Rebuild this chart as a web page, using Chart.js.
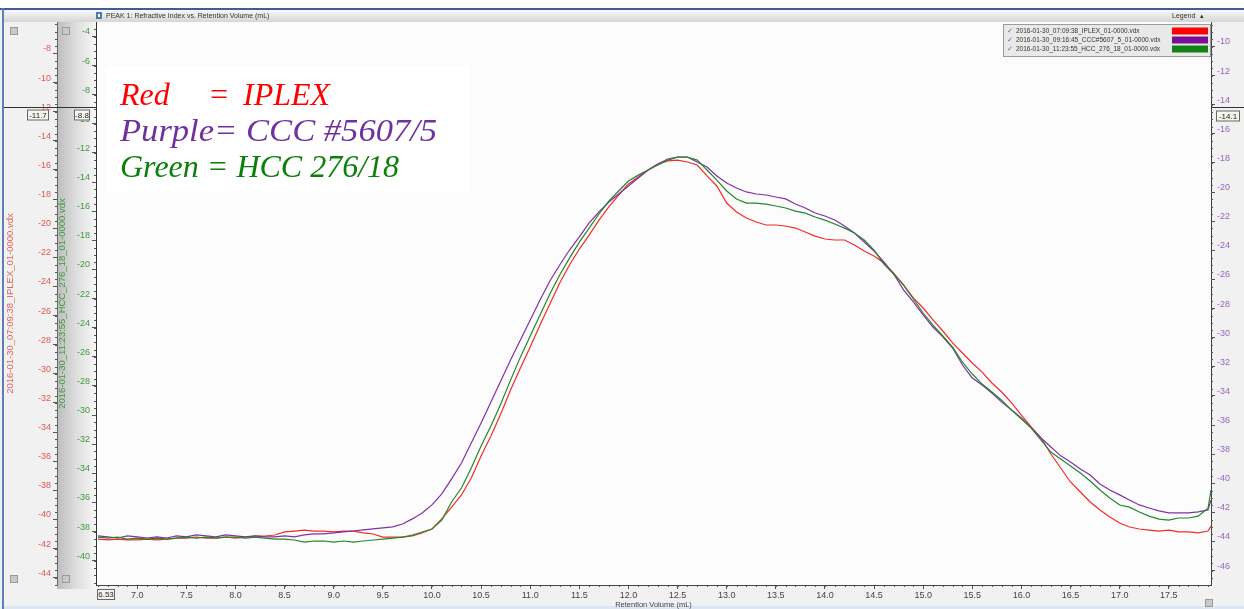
<!DOCTYPE html>
<html><head><meta charset="utf-8">
<script src="https://cdn.jsdelivr.net/npm/chart.js@4.4.0/dist/chart.umd.min.js"></script>
<style>html,body{margin:0;padding:0;background:#fff;overflow:hidden}canvas{display:block}</style>
</head><body>
<canvas id="c" width="1244" height="609"></canvas>
<script>
// Retention volume (mL)
const retentionVolume = [6.6,6.7,6.8,6.9,7.0,7.1,7.2,7.3,7.4,7.5,7.6,7.7,7.8,7.9,8.0,8.1,8.2,8.3,8.4,8.5,
8.6,8.7,8.8,8.9,9.0,9.1,9.2,9.3,9.4,9.5,9.6,9.7,9.8,9.9,10.0,10.1,10.2,10.3,10.4,10.5,
10.6,10.7,10.8,10.9,11.0,11.1,11.2,11.3,11.4,11.5,11.6,11.7,11.8,11.9,12.0,12.1,12.2,12.3,12.4,12.5,
12.6,12.7,12.8,12.9,13.0,13.1,13.2,13.3,13.4,13.5,13.6,13.7,13.8,13.9,14.0,14.1,14.2,14.3,14.4,14.5,
14.6,14.7,14.8,14.9,15.0,15.1,15.2,15.3,15.4,15.5,15.6,15.7,15.8,15.9,16.0,16.1,16.2,16.3,16.4,16.5,
16.6,16.7,16.8,16.9,17.0,17.1,17.2,17.3,17.4,17.5,17.6,17.7,17.8,17.9,17.93];

// Refractive index signal, IPLEX (red, left outer axis)
const iplex = [-41.35,-41.41,-41.35,-41.41,-41.41,-41.35,-41.41,-41.35,-41.28,-41.28,
-41.21,-41.28,-41.28,-41.21,-41.28,-41.21,-41.14,-41.14,-41.07,-40.86,
-40.80,-40.73,-40.80,-40.80,-40.86,-40.80,-40.80,-40.93,-41.00,-41.21,
-41.21,-41.21,-41.14,-40.93,-40.66,-39.97,-39.15,-38.32,-37.16,-35.64,
-34.27,-32.76,-31.11,-29.60,-28.16,-26.65,-25.21,-23.76,-22.53,-21.43,
-20.47,-19.44,-18.54,-17.72,-16.96,-16.48,-16.00,-15.59,-15.38,-15.32,
-15.45,-15.66,-16.41,-17.10,-18.27,-18.89,-19.30,-19.57,-19.78,-19.78,
-19.85,-19.99,-20.26,-20.54,-20.74,-20.81,-20.81,-21.15,-21.57,-21.91,
-22.39,-23.08,-23.90,-24.79,-25.48,-26.30,-27.06,-27.88,-28.57,-29.26,
-29.88,-30.63,-31.25,-32.00,-32.83,-33.65,-34.41,-35.51,-36.47,-37.43,
-38.12,-38.80,-39.35,-39.83,-40.25,-40.52,-40.66,-40.73,-40.80,-40.73,
-40.86,-40.86,-40.93,-40.80,-40.45];

// CCC #5607/5 (purple, right axis)
const ccc5607 = [-43.62,-43.69,-43.76,-43.62,-43.69,-43.76,-43.69,-43.76,-43.62,-43.69,
-43.55,-43.62,-43.69,-43.55,-43.62,-43.69,-43.62,-43.69,-43.69,-43.62,
-43.69,-43.55,-43.48,-43.48,-43.41,-43.34,-43.28,-43.21,-43.14,-43.07,
-43.00,-42.80,-42.45,-42.04,-41.49,-40.73,-39.70,-38.61,-37.23,-35.86,
-34.42,-32.97,-31.53,-30.16,-28.78,-27.41,-26.11,-25.01,-23.98,-23.08,
-22.12,-21.37,-20.68,-20.13,-19.58,-19.03,-18.48,-18.07,-17.73,-17.59,
-17.59,-17.93,-18.28,-18.89,-19.38,-19.72,-19.99,-20.13,-20.20,-20.34,
-20.47,-20.82,-21.09,-21.44,-21.64,-21.92,-22.33,-22.81,-23.43,-24.05,
-24.80,-25.63,-26.72,-27.55,-28.44,-29.27,-29.95,-30.71,-31.88,-32.77,
-33.25,-33.80,-34.42,-34.97,-35.52,-36.20,-36.89,-37.51,-38.12,-38.54,
-39.02,-39.43,-40.05,-40.46,-40.80,-41.15,-41.49,-41.70,-41.90,-42.04,
-42.04,-42.04,-41.97,-41.83,-41.15];

// HCC 276/18 (green, left inner axis)
const hcc27618 = [-38.38,-38.45,-38.38,-38.52,-38.45,-38.52,-38.45,-38.52,-38.45,-38.38,
-38.45,-38.38,-38.45,-38.38,-38.38,-38.45,-38.38,-38.45,-38.52,-38.52,
-38.58,-38.72,-38.65,-38.65,-38.72,-38.65,-38.72,-38.65,-38.58,-38.52,
-38.45,-38.38,-38.24,-38.03,-37.83,-37.21,-35.97,-35.01,-33.64,-32.13,
-30.75,-29.24,-27.60,-26.02,-24.57,-23.13,-21.69,-20.38,-19.22,-18.12,
-17.16,-16.19,-15.30,-14.61,-13.93,-13.52,-13.17,-12.83,-12.49,-12.28,
-12.28,-12.49,-13.17,-13.86,-14.61,-15.16,-15.44,-15.44,-15.51,-15.64,
-15.78,-15.99,-16.13,-16.40,-16.61,-16.88,-17.16,-17.50,-17.98,-18.67,
-19.63,-20.32,-21.07,-22.03,-22.99,-23.82,-24.57,-25.33,-26.36,-27.18,
-27.87,-28.42,-28.97,-29.66,-30.27,-30.89,-31.72,-32.54,-33.02,-33.50,
-33.98,-34.53,-35.15,-35.70,-36.18,-36.32,-36.66,-36.94,-37.14,-37.21,
-37.07,-37.07,-36.94,-36.39,-35.15];

const xTicks = [7.0,7.5,8.0,8.5,9.0,9.5,10.0,10.5,11.0,11.5,12.0,12.5,13.0,13.5,14.0,14.5,15.0,15.5,16.0,16.5,17.0,17.5];
const redTicks = [-8,-10,-12,-14,-16,-18,-20,-22,-24,-26,-28,-30,-32,-34,-36,-38,-40,-42,-44];
const greenTicks = [-4,-6,-8,-10,-12,-14,-16,-18,-20,-22,-24,-26,-28,-30,-32,-34,-36,-38,-40];
const purpleTicks = [-10,-12,-14,-16,-18,-20,-22,-24,-26,-28,-30,-32,-34,-36,-38,-40,-42,-44,-46];

const seriesFiles = ['2016-01-30_07:09:38_IPLEX_01-0000.vdx','2016-01-30_09:16:45_CCC#5607_5_01-0000.vdx','2016-01-30_11:23:55_HCC_276_18_01-0000.vdx'];
const chartTitle = 'PEAK 1: Refractive Index vs. Retention Volume (mL)';
const xTitle = 'Retention Volume (mL)';
const cursorValues = ['-11.7','-8.8','-14.1'];
const xStartLabel = '6.53';

const C_RED = '#f52a2a', C_PUR = '#8230a8', C_GRN = '#22882a';

const pts = arr => retentionVolume.map((x,i)=>({x:x,y:arr[i]}));
const fixW = w => s => { s.width = w; };
const setTicks = arr => s => { s.ticks = arr.map(v=>({value:v})); };
const tickFont = {family:'"Liberation Sans", Arial, sans-serif', size:9};

const bgPlugin = {
  id:'bg',
  beforeDraw(chart){
    const ctx = chart.ctx, a = chart.chartArea, W = chart.width, H = chart.height;
    const sg = chart.scales.yGreen;
    ctx.save();
    ctx.fillStyle = '#f1f1f1'; ctx.fillRect(0,0,W,H);
    ctx.fillStyle = '#ffffff'; ctx.fillRect(0,0,W,9);
    let g = ctx.createLinearGradient(0,10,0,22);
    g.addColorStop(0,'#f8f8f8'); g.addColorStop(1,'#d6d6d6');
    ctx.fillStyle = g; ctx.fillRect(4,10,W-4,12);
    ctx.fillStyle = '#3e5f93'; ctx.fillRect(0,8,W,2);
    ctx.fillStyle = '#5b7fb8'; ctx.fillRect(2,8,2,H-8);
    g = ctx.createLinearGradient(sg.left,0,a.left,0);
    g.addColorStop(0,'#bdbdbd'); g.addColorStop(0.5,'#dedede'); g.addColorStop(1,'#f7f7f7');
    ctx.fillStyle = g; ctx.fillRect(sg.left,22,a.left-sg.left,a.bottom-22+4);
    ctx.fillStyle = '#fcfcfc'; ctx.fillRect(a.left,a.top,a.right-a.left,a.bottom-a.top);
    ctx.fillStyle = '#dbe6f3'; ctx.fillRect(4,H-3,W-4,3);
    ctx.fillStyle = '#5577aa'; ctx.fillRect(96,12,6,7);
    ctx.fillStyle = '#ffffff'; ctx.fillRect(98,14,2,3);
    ctx.font = '7px "Liberation Sans", Arial, sans-serif';
    ctx.fillStyle = '#333'; ctx.textBaseline = 'middle'; ctx.textAlign = 'left';
    ctx.fillText(chartTitle, 106, 16.5);
    ctx.fillText('Legend', 1172, 16.5);
    ctx.fillText('\u25B4', 1200, 16.5);
    ctx.restore();
  }
};

const overlayPlugin = {
  id:'overlay',
  afterDraw(chart){
    const ctx = chart.ctx, a = chart.chartArea, W = chart.width;
    const sx = chart.scales.x, sr = chart.scales.yRed, sg = chart.scales.yGreen, sp = chart.scales.yPurple;
    ctx.save();
    ctx.strokeStyle = '#555'; ctx.lineWidth = 1;
    ctx.beginPath();
    for (let v = Math.ceil(sr.min*2)/2; v <= sr.max; v += 0.5) { const y = Math.round(sr.getPixelForValue(v))+0.5; ctx.moveTo(sr.right-2,y); ctx.lineTo(sr.right,y); }
    for (let v = Math.ceil(sg.min*2)/2; v <= sg.max; v += 0.5) { const y = Math.round(sg.getPixelForValue(v))+0.5; ctx.moveTo(sg.right-2,y); ctx.lineTo(sg.right,y); }
    for (let v = Math.ceil(sp.min*2)/2; v <= sp.max; v += 0.5) { const y = Math.round(sp.getPixelForValue(v))+0.5; ctx.moveTo(sp.left,y); ctx.lineTo(sp.left+2,y); }
    for (let k = Math.ceil(sx.min*10); k <= sx.max*10; k++) { const x = Math.round(sx.getPixelForValue(k/10))+0.5; ctx.moveTo(x,a.bottom); ctx.lineTo(x,a.bottom+2); }
    ctx.stroke();
    const cy = Math.round(sr.getPixelForValue(-11.7))+0.5;
    ctx.strokeStyle = '#333';
    ctx.beginPath(); ctx.moveTo(4,cy); ctx.lineTo(a.left,cy); ctx.moveTo(a.right,cy); ctx.lineTo(W,cy); ctx.stroke();
    ctx.font = '8px "Liberation Sans", Arial, sans-serif'; ctx.textBaseline='middle'; ctx.textAlign='center';
    const box = (x,y,w,h,t)=>{ ctx.fillStyle='#f6f6ee'; ctx.fillRect(x,y,w,h); ctx.strokeStyle='#666'; ctx.strokeRect(x+0.5,y+0.5,w-1,h-1); ctx.fillStyle='#222'; ctx.fillText(t,x+w/2,y+h/2+0.5); };
    box(27,cy+2,22,11,cursorValues[0]);
    box(74,cy+2,16,11,cursorValues[1]);
    box(1216,cy+3,24,11,cursorValues[2]);
    box(97,a.bottom+4,18,11,xStartLabel);
    ctx.fillStyle='#c9c9c9'; ctx.strokeStyle='#999';
    [[10,27],[62,27],[10,575],[62,575],[1205,599]].forEach(p=>{ctx.fillRect(p[0],p[1],8,8);ctx.strokeRect(p[0]+0.5,p[1]+0.5,7,7);});
    ctx.fillStyle='#e9e9e9'; ctx.fillRect(1003,24,208,33);
    ctx.strokeStyle='#9a9a9a'; ctx.strokeRect(1003.5,24.5,207,32);
    const cols=['#ff0000','#7a0f95','#128212'];
    ctx.font='6.5px "Liberation Sans", Arial, sans-serif'; ctx.textAlign='left';
    seriesFiles.forEach((t,i)=>{
      const y = 31 + i*9;
      ctx.fillStyle='#4a6fb0'; ctx.fillText('\u2713',1007,y);
      ctx.fillStyle='#333'; ctx.fillText(t,1016,y);
      ctx.fillStyle=cols[i]; ctx.fillRect(1172,y-3.5,36,7);
    });
    ctx.fillStyle='#ffffff'; ctx.fillRect(107,66,363,126);
    ctx.font='italic 32px "Liberation Serif", "Times New Roman", serif'; ctx.textBaseline='alphabetic';
    ctx.fillStyle='#ff0000'; ctx.fillText('Red',120,105); ctx.fillText('=',208,105); ctx.fillText('IPLEX',243,105);
    ctx.save(); ctx.translate(120,141); ctx.scale(1.08,1);
    ctx.fillStyle='#7030a0'; ctx.fillText('Purple= CCC #5607/5',0,0);
    ctx.restore();
    ctx.fillStyle='#0a800a'; ctx.fillText('Green = HCC 276/18',120,177);
    ctx.restore();
  }
};

new Chart(document.getElementById('c'), {
  type:'line',
  data:{datasets:[
    {label:seriesFiles[2], data:pts(hcc27618), yAxisID:'yGreen', borderColor:C_GRN, borderWidth:1.2, pointRadius:0, tension:0, order:0},
    {label:seriesFiles[1], data:pts(ccc5607), yAxisID:'yPurple', borderColor:C_PUR, borderWidth:1.2, pointRadius:0, tension:0, order:1},
    {label:seriesFiles[0], data:pts(iplex), yAxisID:'yRed', borderColor:C_RED, borderWidth:1.2, pointRadius:0, tension:0, order:2}
  ]},
  options:{
    responsive:false, animation:false, events:[],
    layout:{padding:{left:4,right:0,top:22,bottom:0}, autoPadding:false},
    plugins:{legend:{display:false}, tooltip:{enabled:false}},
    scales:{
      x:{type:'linear', position:'bottom', min:6.58, max:17.93,
        afterBuildTicks:setTicks(xTicks), afterFit:s=>{s.height=24;},
        ticks:{autoSkip:false, maxRotation:0, color:'#444', font:tickFont, padding:1, callback:v=>v.toFixed(1)},
        grid:{drawOnChartArea:false, drawTicks:true, tickLength:4, tickColor:'#555'},
        border:{display:true, color:'#444'},
        title:{display:true, text:xTitle, color:'#444', font:{family:'"Liberation Sans", Arial, sans-serif', size:7.5}, padding:0}},
      yRed:{type:'linear', position:'left', weight:1, min:-44.505, max:-5.837,
        afterBuildTicks:setTicks(redTicks), afterFit:fixW(53),
        ticks:{autoSkip:false, color:'#e25656', font:tickFont, padding:2, align:'end'},
        grid:{drawOnChartArea:false, drawTicks:true, tickLength:4, tickColor:'#555'},
        border:{display:true, color:'#666'},
        title:{display:true, text:seriesFiles[0], color:'#e46060', font:{family:'"Liberation Sans", Arial, sans-serif', size:9.5}, padding:{top:1,bottom:0}}},
      yGreen:{type:'linear', position:'left', weight:0, min:-41.67, max:-3.004,
        afterBuildTicks:setTicks(greenTicks), afterFit:fixW(39),
        ticks:{autoSkip:false, color:'#3f9a3f', font:tickFont, padding:2, align:'end'},
        grid:{drawOnChartArea:false, drawTicks:true, tickLength:4, tickColor:'#555'},
        border:{display:true, color:'#333'},
        title:{display:true, text:seriesFiles[2], color:'#3f9a3f', font:{family:'"Liberation Sans", Arial, sans-serif', size:9.5}, padding:{top:0,bottom:0}}},
      yPurple:{type:'linear', position:'right', min:-46.99, max:-8.317,
        afterBuildTicks:setTicks(purpleTicks), afterFit:fixW(33),
        ticks:{autoSkip:false, color:'#9466bb', font:tickFont, padding:2, align:'end'},
        grid:{drawOnChartArea:false, drawTicks:true, tickLength:4, tickColor:'#555'},
        border:{display:true, color:'#444'}}
    }
  },
  plugins:[bgPlugin, overlayPlugin]
});
</script>
</body></html>
